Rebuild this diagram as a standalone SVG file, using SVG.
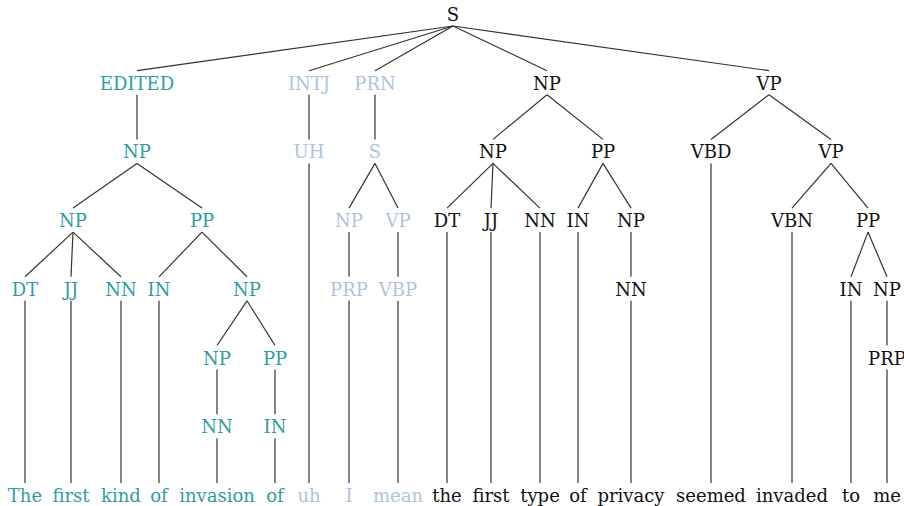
<svg xmlns="http://www.w3.org/2000/svg" width="904" height="506" viewBox="0 0 904 506">
<style>
text{font-family:"DejaVu Serif","Liberation Serif",serif;font-size:18px;text-anchor:middle}
.k{fill:#111}
.t{fill:#2f9ca3}
.b{fill:#aec4de}
#edges line{stroke:#333;stroke-width:1.2}
</style>
<rect width="904" height="506" fill="#fff"/>
<g id="edges">
<line x1="453" y1="26" x2="137" y2="70.7"/>
<line x1="453" y1="26" x2="309" y2="70.7"/>
<line x1="453" y1="26" x2="375" y2="70.7"/>
<line x1="453" y1="26" x2="547" y2="70.7"/>
<line x1="453" y1="26" x2="769" y2="70.7"/>
<line x1="137" y1="94.7" x2="137" y2="139.4"/>
<line x1="309" y1="94.7" x2="309" y2="139.4"/>
<line x1="375" y1="94.7" x2="375" y2="139.4"/>
<line x1="547" y1="94.7" x2="493" y2="139.4"/>
<line x1="547" y1="94.7" x2="603" y2="139.4"/>
<line x1="769" y1="94.7" x2="711" y2="139.4"/>
<line x1="769" y1="94.7" x2="831" y2="139.4"/>
<line x1="137" y1="163.4" x2="73" y2="208.1"/>
<line x1="137" y1="163.4" x2="202" y2="208.1"/>
<line x1="375" y1="163.4" x2="349" y2="208.1"/>
<line x1="375" y1="163.4" x2="398" y2="208.1"/>
<line x1="493" y1="163.4" x2="447" y2="208.1"/>
<line x1="493" y1="163.4" x2="491" y2="208.1"/>
<line x1="493" y1="163.4" x2="540" y2="208.1"/>
<line x1="603" y1="163.4" x2="578" y2="208.1"/>
<line x1="603" y1="163.4" x2="631" y2="208.1"/>
<line x1="831" y1="163.4" x2="792" y2="208.1"/>
<line x1="831" y1="163.4" x2="868" y2="208.1"/>
<line x1="73" y1="232.1" x2="25" y2="276.8"/>
<line x1="73" y1="232.1" x2="71" y2="276.8"/>
<line x1="73" y1="232.1" x2="121" y2="276.8"/>
<line x1="202" y1="232.1" x2="159" y2="276.8"/>
<line x1="202" y1="232.1" x2="247" y2="276.8"/>
<line x1="349" y1="232.1" x2="349" y2="276.8"/>
<line x1="398" y1="232.1" x2="398" y2="276.8"/>
<line x1="631" y1="232.1" x2="631" y2="276.8"/>
<line x1="868" y1="232.1" x2="851" y2="276.8"/>
<line x1="868" y1="232.1" x2="887" y2="276.8"/>
<line x1="247" y1="300.8" x2="217" y2="345.5"/>
<line x1="247" y1="300.8" x2="275" y2="345.5"/>
<line x1="887" y1="300.8" x2="887" y2="345.5"/>
<line x1="217" y1="369.5" x2="217" y2="414.2"/>
<line x1="275" y1="369.5" x2="275" y2="414.2"/>
<line x1="25" y1="300.8" x2="25" y2="482.9"/>
<line x1="71" y1="300.8" x2="71" y2="482.9"/>
<line x1="121" y1="300.8" x2="121" y2="482.9"/>
<line x1="159" y1="300.8" x2="159" y2="482.9"/>
<line x1="217" y1="438.2" x2="217" y2="482.9"/>
<line x1="275" y1="438.2" x2="275" y2="482.9"/>
<line x1="309" y1="163.4" x2="309" y2="482.9"/>
<line x1="349" y1="300.8" x2="349" y2="482.9"/>
<line x1="398" y1="300.8" x2="398" y2="482.9"/>
<line x1="447" y1="232.1" x2="447" y2="482.9"/>
<line x1="491" y1="232.1" x2="491" y2="482.9"/>
<line x1="540" y1="232.1" x2="540" y2="482.9"/>
<line x1="578" y1="232.1" x2="578" y2="482.9"/>
<line x1="631" y1="300.8" x2="631" y2="482.9"/>
<line x1="711" y1="163.4" x2="711" y2="482.9"/>
<line x1="792" y1="232.1" x2="792" y2="482.9"/>
<line x1="851" y1="300.8" x2="851" y2="482.9"/>
<line x1="887" y1="369.5" x2="887" y2="482.9"/>
</g>
<g id="n-S"><text class="k" x="453" y="21">S</text></g>
<g id="n-EDITED"><text class="t" x="137" y="89.7">EDITED</text></g>
<g id="n-INTJ"><text class="b" x="309" y="89.7">INTJ</text></g>
<g id="n-PRN"><text class="b" x="375" y="89.7">PRN</text></g>
<g id="n-NP1"><text class="k" x="547" y="89.7">NP</text></g>
<g id="n-VP1"><text class="k" x="769" y="89.7">VP</text></g>
<g id="n-NP2"><text class="t" x="137" y="158.4">NP</text></g>
<g id="n-UH"><text class="b" x="309" y="158.4">UH</text></g>
<g id="n-S2"><text class="b" x="375" y="158.4">S</text></g>
<g id="n-NP3"><text class="k" x="493" y="158.4">NP</text></g>
<g id="n-PP1"><text class="k" x="603" y="158.4">PP</text></g>
<g id="n-VBD"><text class="k" x="711" y="158.4">VBD</text></g>
<g id="n-VP2"><text class="k" x="831" y="158.4">VP</text></g>
<g id="n-NP4"><text class="t" x="73" y="227.1">NP</text></g>
<g id="n-PP2"><text class="t" x="202" y="227.1">PP</text></g>
<g id="n-NP5"><text class="b" x="349" y="227.1">NP</text></g>
<g id="n-VP3"><text class="b" x="398" y="227.1">VP</text></g>
<g id="n-DT1"><text class="k" x="447" y="227.1">DT</text></g>
<g id="n-JJ1"><text class="k" x="491" y="227.1">JJ</text></g>
<g id="n-NN1"><text class="k" x="540" y="227.1">NN</text></g>
<g id="n-IN1"><text class="k" x="578" y="227.1">IN</text></g>
<g id="n-NP6"><text class="k" x="631" y="227.1">NP</text></g>
<g id="n-VBN"><text class="k" x="792" y="227.1">VBN</text></g>
<g id="n-PP3"><text class="k" x="868" y="227.1">PP</text></g>
<g id="n-DT2"><text class="t" x="25" y="295.8">DT</text></g>
<g id="n-JJ2"><text class="t" x="71" y="295.8">JJ</text></g>
<g id="n-NN2"><text class="t" x="121" y="295.8">NN</text></g>
<g id="n-IN2"><text class="t" x="159" y="295.8">IN</text></g>
<g id="n-NP7"><text class="t" x="247" y="295.8">NP</text></g>
<g id="n-PRP1"><text class="b" x="349" y="295.8">PRP</text></g>
<g id="n-VBP"><text class="b" x="398" y="295.8">VBP</text></g>
<g id="n-NN3"><text class="k" x="631" y="295.8">NN</text></g>
<g id="n-IN3"><text class="k" x="851" y="295.8">IN</text></g>
<g id="n-NP8"><text class="k" x="887" y="295.8">NP</text></g>
<g id="n-NP9"><text class="t" x="217" y="364.5">NP</text></g>
<g id="n-PP4"><text class="t" x="275" y="364.5">PP</text></g>
<g id="n-PRP2"><text class="k" x="887" y="364.5">PRP</text></g>
<g id="n-NN4"><text class="t" x="217" y="433.2">NN</text></g>
<g id="n-IN4"><text class="t" x="275" y="433.2">IN</text></g>
<g id="w1"><text class="t" x="25" y="501.9">The</text></g>
<g id="w2"><text class="t" x="71" y="501.9">first</text></g>
<g id="w3"><text class="t" x="121" y="501.9">kind</text></g>
<g id="w4"><text class="t" x="159" y="501.9">of</text></g>
<g id="w5"><text class="t" x="217" y="501.9">invasion</text></g>
<g id="w6"><text class="t" x="275" y="501.9">of</text></g>
<g id="w7"><text class="b" x="309" y="501.9">uh</text></g>
<g id="w8"><text class="b" x="349" y="501.9">I</text></g>
<g id="w9"><text class="b" x="398" y="501.9">mean</text></g>
<g id="w10"><text class="k" x="447" y="501.9">the</text></g>
<g id="w11"><text class="k" x="491" y="501.9">first</text></g>
<g id="w12"><text class="k" x="540" y="501.9">type</text></g>
<g id="w13"><text class="k" x="578" y="501.9">of</text></g>
<g id="w14"><text class="k" x="631" y="501.9">privacy</text></g>
<g id="w15"><text class="k" x="711" y="501.9">seemed</text></g>
<g id="w16"><text class="k" x="792" y="501.9">invaded</text></g>
<g id="w17"><text class="k" x="851" y="501.9">to</text></g>
<g id="w18"><text class="k" x="887" y="501.9">me</text></g>
</svg>
